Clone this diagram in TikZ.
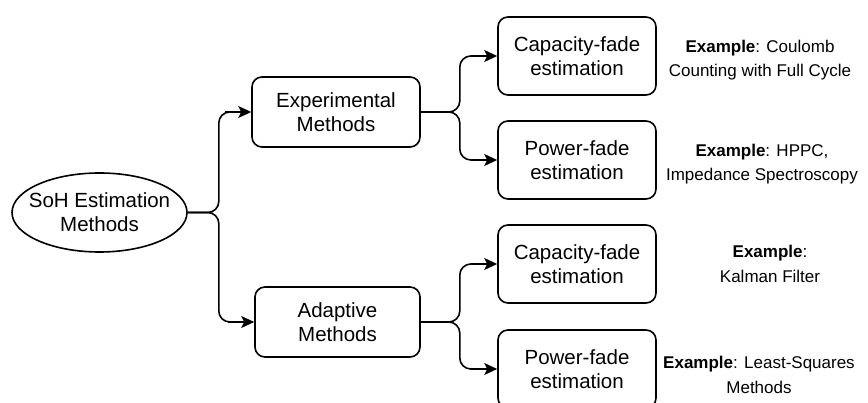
\documentclass[tikz,border=0pt]{standalone}
\usepackage{fontspec}
\setmainfont{Liberation Sans}
\usetikzlibrary{arrows.meta,shapes.geometric}
\begin{document}
\begin{tikzpicture}[x=1pt,y=-1pt,
  box/.style={draw,line width=1.6pt,rounded corners=10pt,inner sep=0pt,align=center,font=\fontsize{20.5}{24}\selectfont},
  ell/.style={draw,line width=1.6pt,ellipse,inner sep=0pt,minimum width=175pt,minimum height=79pt},
  elltext/.style={align=center,inner sep=0pt,font=\fontsize{20.5}{24}\selectfont},
  ex/.style={align=center,inner sep=0pt,font=\fontsize{17}{24.5}\selectfont},
  conn/.style={line width=1.6pt,-{Stealth[length=13pt,width=12pt,inset=3pt]}}]
\useasboundingbox (0,0) rectangle (868,403);
\node[ell,label={[elltext]center:SoH Estimation\\Methods}] (soh) at (99.5,212.5) {};
\node[box,minimum width=168pt,minimum height=70pt] (exp) at (336,112) {Experimental\\Methods};
\node[box,minimum width=165pt,minimum height=70pt] (ada) at (337.5,322) {Adaptive\\Methods};
\node[box,minimum width=158pt,minimum height=78pt] (c1) at (577,56) {Capacity-fade\\estimation};
\node[box,minimum width=158pt,minimum height=78pt] (p1) at (577,160) {Power-fade\\estimation};
\node[box,minimum width=158pt,minimum height=78pt] (c2) at (577,264) {Capacity-fade\\estimation};
\node[box,minimum width=158pt,minimum height=78pt] (p2) at (577,369) {Power-fade\\estimation};
\node[ex] (e1) at (760,60) {\textbf{Example}: Coulomb\\Counting with Full Cycle};
\node[ex] (e2) at (762,164) {\textbf{Example}: HPPC,\\Impedance Spectroscopy};
\node[ex] (e3) at (770,264) {\textbf{Example}:\\Kalman Filter};
\node[ex] (e4) at (759,375) {\textbf{Example}: Least-Squares\\Methods};
\draw[conn] (soh.east) [rounded corners=11pt] -- ++(31,0) |- ([xshift=-15pt]exp.west) [sharp corners] -- (exp.west);
\draw[conn] (soh.east) [rounded corners=11pt] -- ++(31,0) |- ([xshift=-15pt]ada.west) [sharp corners] -- (ada.west);
\draw[conn] (exp.east) [rounded corners=11pt] -- ++(39,0) |- ([xshift=-15pt]c1.west) [sharp corners] -- (c1.west);
\draw[conn] (exp.east) [rounded corners=11pt] -- ++(39,0) |- ([xshift=-15pt]p1.west) [sharp corners] -- (p1.west);
\draw[conn] (ada.east) [rounded corners=11pt] -- ++(39,0) |- ([xshift=-15pt]c2.west) [sharp corners] -- (c2.west);
\draw[conn] (ada.east) [rounded corners=11pt] -- ++(39,0) |- ([xshift=-15pt]p2.west) [sharp corners] -- (p2.west);
\end{tikzpicture}
\end{document}
